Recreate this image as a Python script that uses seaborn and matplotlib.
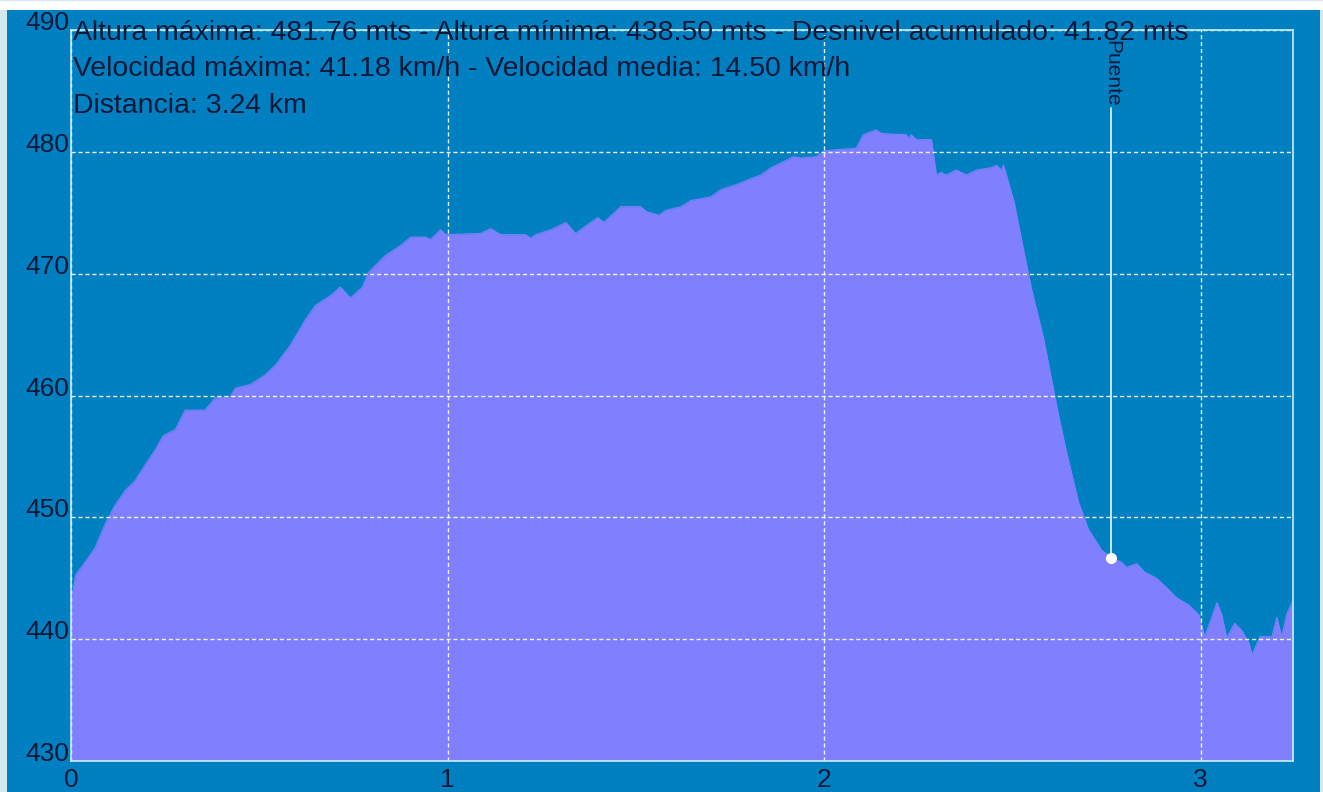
import numpy as np
import pandas as pd
import matplotlib
matplotlib.use("Agg")
import matplotlib.pyplot as plt
from matplotlib.patches import Rectangle
import seaborn as sns

# perfil de altura (km, metros)
distancia_km = [
    0.000, 0.013, 0.037, 0.064, 0.090, 0.117, 0.144, 0.170, 0.197, 0.223,
    0.245, 0.277, 0.303, 0.356, 0.383, 0.423, 0.436, 0.476, 0.516, 0.543,
    0.582, 0.622, 0.649, 0.689, 0.715, 0.742, 0.774, 0.790, 0.835, 0.875,
    0.902, 0.941, 0.955, 0.981, 0.995, 1.088, 1.114, 1.141, 1.207, 1.221,
    1.234, 1.274, 1.314, 1.340, 1.380, 1.399, 1.415, 1.460, 1.513, 1.527,
    1.561, 1.580, 1.620, 1.646, 1.699, 1.726, 1.766, 1.806, 1.832, 1.859,
    1.886, 1.899, 1.918, 1.939, 1.979, 1.997, 2.005, 2.085, 2.104, 2.138,
    2.152, 2.218, 2.223, 2.231, 2.245, 2.285, 2.298, 2.311, 2.324, 2.351,
    2.378, 2.404, 2.444, 2.457, 2.471, 2.476, 2.484, 2.505, 2.524, 2.551,
    2.582, 2.604, 2.625, 2.644, 2.676, 2.702, 2.737, 2.763, 2.790, 2.803,
    2.830, 2.851, 2.883, 2.910, 2.936, 2.968, 2.995, 3.011, 3.043, 3.056,
    3.069, 3.090, 3.109, 3.128, 3.136, 3.157, 3.181, 3.189, 3.202, 3.215,
    3.229, 3.245,
]
altura_m = [
    443.2, 445.3, 446.3, 447.5, 449.4, 451.0, 452.2, 453.0, 454.3, 455.5,
    456.7, 457.2, 458.8, 458.8, 459.8, 459.9, 460.6, 460.9, 461.7, 462.5,
    464.1, 466.2, 467.4, 468.2, 468.9, 468.0, 468.9, 470.1, 471.5, 472.3,
    473.0, 473.0, 472.8, 473.6, 473.2, 473.3, 473.7, 473.2, 473.2, 472.9,
    473.2, 473.6, 474.2, 473.3, 474.2, 474.6, 474.2, 475.5, 475.5, 475.1,
    474.8, 475.2, 475.5, 476.0, 476.3, 476.9, 477.3, 477.8, 478.1, 478.7,
    479.1, 479.3, 479.6, 479.5, 479.6, 480.0, 480.1, 480.3, 481.4, 481.8,
    481.5, 481.4, 481.1, 481.4, 481.0, 481.0, 478.1, 478.3, 478.1, 478.5,
    478.1, 478.5, 478.7, 478.9, 478.5, 478.9, 478.1, 475.8, 472.8, 468.7,
    464.8, 461.3, 458.0, 455.3, 451.2, 449.0, 447.3, 446.7, 446.3, 445.9,
    446.2, 445.5, 445.0, 444.2, 443.4, 442.8, 442.0, 440.2, 443.0, 442.0,
    440.1, 441.3, 440.7, 439.7, 438.7, 440.2, 440.2, 440.2, 441.8, 440.2,
    442.1, 443.2,
]

x_ticks = [0, 1, 2, 3]
y_ticks = [430, 440, 450, 460, 470, 480, 490]

punto_nombre = "Puente"
punto_km = 2.763
punto_altura = 446.7

lineas_info = [
    "Altura máxima: 481.76 mts - Altura mínima: 438.50 mts - Desnivel acumulado: 41.82 mts",
    "Velocidad máxima: 41.18 km/h - Velocidad media: 14.50 km/h",
    "Distancia: 3.24 km",
]

AZUL = "#0080c0"
VIOLETA = "#8080ff"
TEXTO = "#0b1838"
BORDE = "#c8eef0"

sns.set_style("white")
plt.rcParams["font.family"] = ["Liberation Sans", "DejaVu Sans"]

W, H = 1323, 792
fig = plt.figure(figsize=(W / 100, H / 100), dpi=100, facecolor="#d3e9f0")
# marco exterior
fig.patches.append(Rectangle((0, (H - 10) / H), 1, 9 / H, transform=fig.transFigure,
                             facecolor="white", edgecolor="none", zorder=-2))
fig.patches.append(Rectangle((7 / W, 0), (1320 - 7) / W, (H - 10) / H, transform=fig.transFigure,
                             facecolor=AZUL, edgecolor="none", zorder=-2))

ax = fig.add_axes([71 / W, 1 - 761 / H, (1293 - 71) / W, (761 - 30) / H])
ax.set_facecolor(AZUL)

df = pd.DataFrame({"km": distancia_km, "altura": altura_m})
ax.fill_between(df["km"], df["altura"], 430, color=VIOLETA, linewidth=0, zorder=1)
sns.lineplot(data=df, x="km", y="altura", ax=ax, color=VIOLETA, linewidth=0.8, zorder=2)

ax.set_xlim(0, 3.245)
ax.set_ylim(430, 490)
ax.set_xticks(x_ticks)
ax.set_yticks(y_ticks)
ax.set_xlabel("")
ax.set_ylabel("")

ax.grid(True, color="white", linestyle=(0, (3, 2)), linewidth=1, alpha=0.9, zorder=3)
ax.set_axisbelow(False)
for s in ax.spines.values():
    s.set_color(BORDE)
    s.set_linewidth(1.2)
    s.set_zorder(4)

ax.tick_params(axis="both", length=0, labelsize=19, colors=TEXTO)
ax.tick_params(axis="y", pad=1)
ax.tick_params(axis="x", pad=5)
for lbl in ax.get_yticklabels():
    lbl.set_va("baseline")

# punto de interes
ax.plot([punto_km, punto_km], [punto_altura, 483.6], color="#e8f8f8", linewidth=1.2, zorder=5)
ax.plot(punto_km, punto_altura, "o", color="white", markersize=7, zorder=6)
ax.text(punto_km, 489.2, punto_nombre, rotation=270, ha="center", va="top",
        fontsize=15, color=TEXTO, zorder=6)

# informacion del recorrido
for i, linea in enumerate(lineas_info):
    fig.text(73 / W, 1 - (40 + 36.5 * i) / H, linea, fontsize=20.4, color=TEXTO,
             ha="left", va="baseline", zorder=7)

fig.savefig("out.png", dpi=100, facecolor=fig.get_facecolor())
